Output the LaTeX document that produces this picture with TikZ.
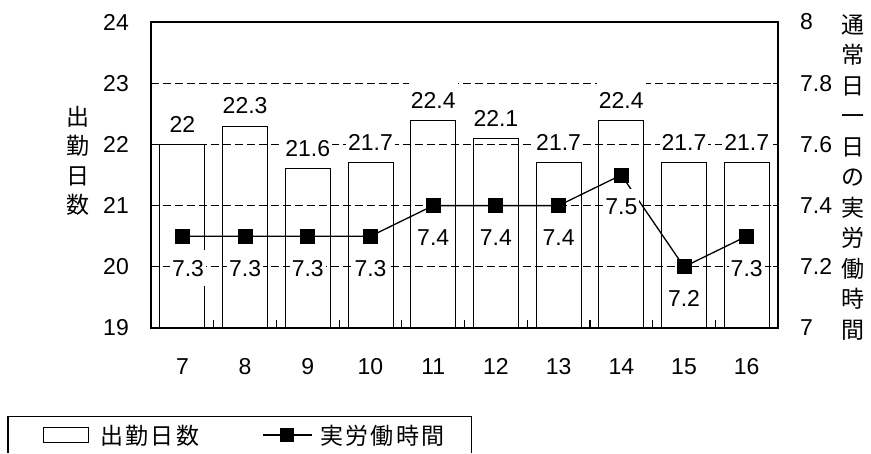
\documentclass[tikz,border=0pt]{standalone}
\usepackage{fontspec}
\setmainfont{Liberation Sans}
\newfontfamily\cjk{Noto Sans CJK JP}
\newfontfamily\cjkwide[LetterSpace=10]{Noto Sans CJK JP}

\begin{document}
\begin{tikzpicture}
[x=1pt,y=-1pt,frameline/.style={black,line width=1.5pt},gridline/.style={black,line width=1.2pt,dash pattern=on 8pt off 4pt},barbox/.style={black,line width=1pt},dataline/.style={black,line width=1.3pt},markbox/.style={rectangle,fill=black,minimum size=15pt,inner sep=0pt},numlabel/.style={black,font=\fontsize{23}{27}\selectfont,inner sep=2pt},datalabel/.style={numlabel,fill=white,inner ysep=10pt},axistitle/.style={black,align=center,inner sep=0pt}]

\useasboundingbox (0,0) rectangle (871,453);

% grid
\draw[gridline] (151,83.2) -- (778,83.2);
\draw[gridline] (151,144.4) -- (778,144.4);
\draw[gridline] (151,205.6) -- (778,205.6);
\draw[gridline] (151,266.8) -- (778,266.8);

% bars
\draw[barbox] (159.9,328) rectangle (204.9,144.4);
\draw[barbox] (222.6,328) rectangle (267.6,126.0);
\draw[barbox] (285.3,328) rectangle (330.3,168.9);
\draw[barbox] (348.0,328) rectangle (393.0,162.8);
\draw[barbox] (410.7,328) rectangle (455.7,120.0);
\draw[barbox] (473.4,328) rectangle (518.4,138.3);
\draw[barbox] (536.1,328) rectangle (581.1,162.8);
\draw[barbox] (598.8,328) rectangle (643.8,120.0);
\draw[barbox] (661.5,328) rectangle (706.5,162.8);
\draw[barbox] (724.2,328) rectangle (769.2,162.8);

% frame and ticks
\draw[frameline] (151,22) rectangle (778,328);
\draw[black,line width=1.2pt] (151,83.2) -- +(5,0) (151,144.4) -- +(5,0) (151,205.6) -- +(5,0) (151,266.8) -- +(5,0);
\draw[black,line width=1.2pt] (778,83.2) -- +(-5,0) (778,144.4) -- +(-5,0) (778,205.6) -- +(-5,0) (778,266.8) -- +(-5,0);
\draw[black,line width=1.2pt] (213.7,328) -- +(0,-8) (276.4,328) -- +(0,-8) (339.1,328) -- +(0,-8) (401.8,328) -- +(0,-8) (464.5,328) -- +(0,-8) (527.2,328) -- +(0,-8) (589.9,328) -- +(0,-8) (652.6,328) -- +(0,-8) (715.3,328) -- +(0,-8);

% left axis
\node[numlabel,anchor=east](l24) at (131,22){24};
\node[numlabel,anchor=east](l23) at (131,83.2){23};
\node[numlabel,anchor=east](l22) at (131,144.4){22};
\node[numlabel,anchor=east](l21) at (131,205.6){21};
\node[numlabel,anchor=east](l20) at (131,266.8){20};
\node[numlabel,anchor=east](l19) at (131,328){19};
\node[axistitle,font=\cjk\fontsize{23}{29.5}\selectfont](ltitle) at (78,161){出\\勤\\日\\数};

% right axis
\node[numlabel,anchor=west](r80) at (798,22){8};
\node[numlabel,anchor=west](r78) at (798,83.2){7.8};
\node[numlabel,anchor=west](r76) at (798,144.4){7.6};
\node[numlabel,anchor=west](r74) at (798,205.6){7.4};
\node[numlabel,anchor=west](r72) at (798,266.8){7.2};
\node[numlabel,anchor=west](r70) at (798,328){7};
\node[axistitle,font=\cjk\fontsize{23}{30.5}\selectfont](rtitle) at (853,177.5){通\\常\\日\\一\\日\\の\\実\\労\\働\\時\\間};

% months
\node[numlabel](x7) at (182.4,366.7){7};
\node[numlabel](x8) at (245.1,366.7){8};
\node[numlabel](x9) at (307.8,366.7){9};
\node[numlabel](x10) at (370.5,366.7){10};
\node[numlabel](x11) at (433.2,366.7){11};
\node[numlabel](x12) at (495.9,366.7){12};
\node[numlabel](x13) at (558.6,366.7){13};
\node[numlabel](x14) at (621.3,366.7){14};
\node[numlabel](x15) at (684.0,366.7){15};
\node[numlabel](x16) at (746.7,366.7){16};

% hours line
\node[markbox](m7) at (182.4,236.2){};
\node[markbox](m8) at (245.1,236.2){};
\node[markbox](m9) at (307.8,236.2){};
\node[markbox](m10) at (370.5,236.2){};
\node[markbox](m11) at (433.2,205.6){};
\node[markbox](m12) at (495.9,205.6){};
\node[markbox](m13) at (558.6,205.6){};
\node[markbox](m14) at (621.3,175.0){};
\node[markbox](m15) at (684.0,266.8){};
\node[markbox](m16) at (746.7,236.2){};
\draw[dataline] (m7.center) -- (m8.center) -- (m9.center) -- (m10.center) -- (m11.center) -- (m12.center) -- (m13.center) -- (m14.center) -- (m15.center) -- (m16.center);

% day labels
\node[datalabel](b7) at (182.4,124.4){22};
\node[datalabel](b8) at (245.1,106.0){22.3};
\node[datalabel](b9) at (307.8,148.9){21.6};
\node[datalabel](b10) at (370.5,142.8){21.7};
\node[datalabel](b11) at (433.2,100.0){22.4};
\node[datalabel](b12) at (495.9,118.3){22.1};
\node[datalabel](b13) at (558.6,142.8){21.7};
\node[datalabel](b14) at (621.3,100.0){22.4};
\node[datalabel](b15) at (684.0,142.8){21.7};
\node[datalabel](b16) at (746.7,142.8){21.7};

% hour labels
\node[datalabel](t7) at (188,268.2){7.3};
\node[datalabel](t8) at (245.1,268.2){7.3};
\node[datalabel](t9) at (307.8,268.2){7.3};
\node[datalabel](t10) at (370.5,268.2){7.3};
\node[datalabel](t11) at (433.2,237.6){7.4};
\node[datalabel](t12) at (495.9,237.6){7.4};
\node[datalabel](t13) at (558.6,237.6){7.4};
\node[datalabel](t14) at (621.3,207.0){7.5};
\node[datalabel](t15) at (684.0,298.8){7.2};
\node[datalabel](t16) at (746.7,268.2){7.3};

% legend
\draw[frameline] (8,453) -- (8,416.7) -- (471.7,416.7) -- (471.7,453);
\draw[barbox] (43,427.7) rectangle (88,442.7);
\node[black,anchor=west,inner sep=0pt,font=\cjkwide\fontsize{23}{27}\selectfont](leg1) at (100,436){出勤日数};
\coordinate (lega) at (263,435);
\coordinate (legb) at (311.7,435);
\draw[dataline] (lega) -- (legb);
\node[markbox,minimum size=14pt](legm) at (287.3,435){};
\node[black,anchor=west,inner sep=0pt,font=\cjkwide\fontsize{23}{27}\selectfont](leg2) at (320,436){実労働時間};

\end{tikzpicture}
\end{document}
